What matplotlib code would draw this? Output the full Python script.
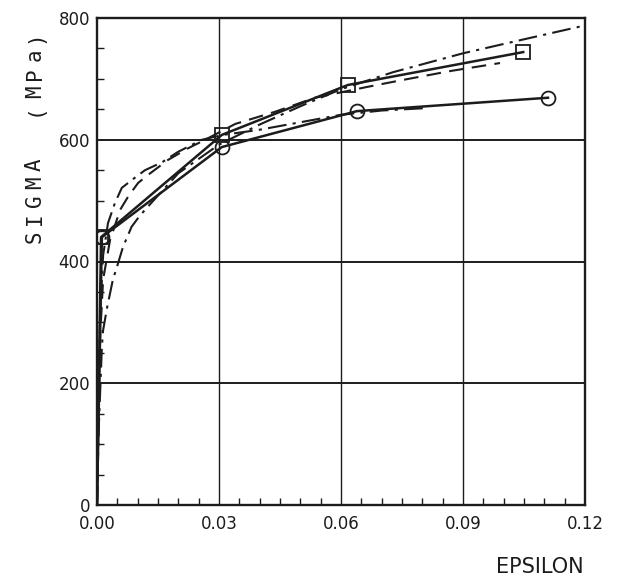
import matplotlib
matplotlib.use("Agg")
import matplotlib.pyplot as plt
from matplotlib.ticker import MultipleLocator, FixedLocator

# ---- data ----
sq_eps = [0.0, 0.001, 0.0307, 0.0617, 0.1048]
sq_sig = [0, 440, 608, 690, 744]

ci_eps = [0.0, 0.0012, 0.0307, 0.0639, 0.1109]
ci_sig = [0, 440, 588, 647, 669]

# upper-left dash-dot fit (saturating)
a_eps = [0.0, 0.0003, 0.0008, 0.0015, 0.0027, 0.0044, 0.0061, 0.0086, 0.0118,
         0.016, 0.0199, 0.0258, 0.031, 0.0396, 0.0494, 0.06, 0.07, 0.081]
a_sig = [0, 150, 320, 410, 463, 496, 521, 534, 550,
         563, 580, 600, 608, 616, 628, 641, 648, 652]

# dashed fit
b_eps = [0.0, 0.0003, 0.0008, 0.0015, 0.0032, 0.0057, 0.0076, 0.0101, 0.0125,
         0.0175, 0.0224, 0.0266, 0.034, 0.0438, 0.0536, 0.0666, 0.075, 0.087, 0.0991]
b_sig = [0, 120, 280, 370, 435, 485, 506, 529, 542,
         567, 586, 600, 626, 646, 669, 687, 698, 713, 726]

# lower-left dash-dot fit (reaches top right)
c_eps = [0.0, 0.0004, 0.0012, 0.0015, 0.0025, 0.0039, 0.0049, 0.0064, 0.0085,
         0.0105, 0.0125, 0.02, 0.03, 0.04, 0.05, 0.06, 0.0728, 0.09, 0.105, 0.1195]
c_sig = [0, 120, 260, 287, 325, 370, 391, 424, 457,
         475, 490, 545, 592, 625, 655, 683, 711, 742, 765, 787]

x_ticks = [0.0, 0.03, 0.06, 0.09, 0.12]
x_tick_labels = ["0.00", "0.03", "0.06", "0.09", "0.12"]
y_ticks = [0, 200, 400, 600, 800]
y_tick_labels = ["0", "200", "400", "600", "800"]

ylabel_text = "SIGMA  (MPa)"
xlabel_text = "EPSILON"

INK = "#1c1c1c"

fig = plt.figure(figsize=(6.28, 5.81), dpi=100)
W, H = 628, 581
ax = fig.add_axes([97 / W, 1 - 505 / H, (585 - 97) / W, (505 - 18) / H])

ax.set_xlim(0, 0.12)
ax.set_ylim(0, 800)

# grid
for xv in x_ticks[1:-1]:
    ax.axvline(xv, color=INK, lw=1.0, zorder=1)
for yv in y_ticks[1:-1]:
    ax.axhline(yv, color=INK, lw=1.4, zorder=1)

lw_fit = 1.5
ax.plot(a_eps, a_sig, color=INK, lw=lw_fit, linestyle=(0, (9, 3, 1.5, 3)), zorder=3)
ax.plot(b_eps, b_sig, color=INK, lw=lw_fit, linestyle=(0, (7, 4)), zorder=3)
ax.plot(c_eps, c_sig, color=INK, lw=lw_fit, linestyle=(0, (9, 3, 1.5, 3)), zorder=3)

ax.plot(sq_eps, sq_sig, color=INK, lw=1.8, marker="s", markersize=9.5,
        markerfacecolor="none", markeredgecolor=INK, markeredgewidth=1.3,
        markevery=[1, 2, 3, 4], zorder=4)
ax.plot(ci_eps, ci_sig, color=INK, lw=1.8, marker="o", markersize=10,
        markerfacecolor="none", markeredgecolor=INK, markeredgewidth=1.3,
        markevery=[1, 2, 3, 4], zorder=4)

# ticks
ax.xaxis.set_major_locator(FixedLocator(x_ticks))
ax.yaxis.set_major_locator(FixedLocator(y_ticks))
ax.set_xticklabels(x_tick_labels)
ax.set_yticklabels(y_tick_labels)
ax.xaxis.set_minor_locator(MultipleLocator(0.005))
ax.yaxis.set_minor_locator(MultipleLocator(50))
ax.tick_params(which="major", length=0, labelsize=12, colors=INK)
ax.tick_params(axis="x", which="major", pad=7)
ax.tick_params(axis="y", which="major", pad=5)
ax.tick_params(which="minor", direction="in", length=5, width=1.0, color=INK)
ax.tick_params(top=False, right=False, which="both")

for s in ax.spines.values():
    s.set_linewidth(1.7)
    s.set_color(INK)

# x label
fig.text(584 / W, 1 - 567 / H, xlabel_text, ha="right", va="center",
         fontsize=15, color=INK)

# y label with wide, plotter-like uniform spacing
step = 18.2
y0 = 237.0
for i, ch in enumerate(ylabel_text):
    if ch == " ":
        continue
    fig.text(35 / W, 1 - (y0 - i * step) / H, ch, rotation=90,
             ha="center", va="center", fontsize=15, color=INK,
             family="DejaVu Sans Mono")

fig.savefig("out.png", dpi=100, facecolor="white")
